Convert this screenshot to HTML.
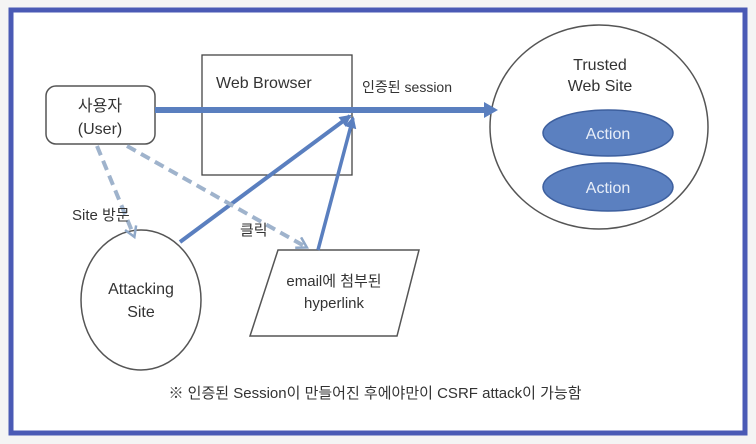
<!DOCTYPE html>
<html><head><meta charset="utf-8"><style>
html,body{margin:0;padding:0;background:#fff;}
svg{display:block;}
text{font-family:"Liberation Sans","Noto Sans CJK KR",sans-serif;fill:#333;}
</style></head><body>
<svg width="756" height="444" viewBox="0 0 756 444">
<rect width="756" height="444" fill="#f4f4f4"/>
<rect x="11" y="10" width="734" height="423" fill="#fff" stroke="#4a5ab5" stroke-width="5"/>
<defs>
<marker id="ah" markerWidth="14" markerHeight="14" refX="10" refY="7" orient="auto" markerUnits="userSpaceOnUse"><path d="M0,1 L12,7 L0,13 Z" fill="#5a7fbf"/></marker>
<marker id="ad" markerWidth="14" markerHeight="14" refX="10" refY="7" orient="auto" markerUnits="userSpaceOnUse"><path d="M1,1 L11,7 L1,13" fill="none" stroke="#8fa8c8" stroke-width="2.5"/></marker>
</defs>
<rect x="202" y="55" width="150" height="120" fill="#fff" stroke="#444" stroke-width="1.3"/>
<text x="216" y="88" font-size="16">Web Browser</text>
<rect x="46" y="86" width="109" height="58" rx="10" fill="#fff" stroke="#555" stroke-width="1.5"/>
<text x="100" y="111" font-size="16" text-anchor="middle">사용자</text>
<text x="100" y="134" font-size="16" text-anchor="middle">(User)</text>
<ellipse cx="599" cy="127" rx="109" ry="102" fill="#fff" stroke="#555" stroke-width="1.5"/>
<text x="600" y="70" font-size="16" text-anchor="middle">Trusted</text>
<text x="600" y="91" font-size="16" text-anchor="middle">Web Site</text>
<ellipse cx="608" cy="133" rx="65" ry="23" fill="#5b80c0" stroke="#3d5f9e" stroke-width="1.5"/>
<ellipse cx="608" cy="187" rx="65" ry="24" fill="#5b80c0" stroke="#3d5f9e" stroke-width="1.5"/>
<text x="608" y="139" font-size="16" text-anchor="middle" style="fill:#e8eef8">Action</text>
<text x="608" y="193" font-size="16" text-anchor="middle" style="fill:#e8eef8">Action</text>
<line x1="155" y1="110" x2="486" y2="110" stroke="#5a7fbf" stroke-width="6"/>
<polygon points="484,102 498,110 484,118" fill="#5a7fbf"/>
<text x="362" y="92" font-size="14">인증된 session</text>
<ellipse cx="141" cy="300" rx="60" ry="70" fill="#fff" stroke="#555" stroke-width="1.5"/>
<text x="141" y="294" font-size="16" text-anchor="middle">Attacking</text>
<text x="141" y="317" font-size="16" text-anchor="middle">Site</text>
<polygon points="278,250 419,250 397,336 250,336" fill="#fff" stroke="#555" stroke-width="1.5"/>
<text x="334" y="286" font-size="15" text-anchor="middle">email에 첨부된</text>
<text x="334" y="308" font-size="15" text-anchor="middle">hyperlink</text>
<line x1="180" y1="242" x2="350" y2="116" stroke="#5a7fbf" stroke-width="4" marker-end="url(#ah)"/>
<line x1="318" y1="250" x2="353" y2="118" stroke="#5a7fbf" stroke-width="3.5" marker-end="url(#ah)"/>
<line x1="97" y1="146" x2="134" y2="236" stroke="#9fb3cc" stroke-width="4" stroke-dasharray="10,6" marker-end="url(#ad)"/>
<line x1="127" y1="146" x2="306" y2="247" stroke="#9fb3cc" stroke-width="4" stroke-dasharray="10,6" marker-end="url(#ad)"/>
<text x="72" y="220" font-size="15">Site 방문</text>
<text x="240" y="235" font-size="15">클릭</text>
<text x="375" y="398" font-size="15" text-anchor="middle">※ 인증된 Session이 만들어진 후에야만이 CSRF attack이 가능함</text>
</svg>
</body></html>
